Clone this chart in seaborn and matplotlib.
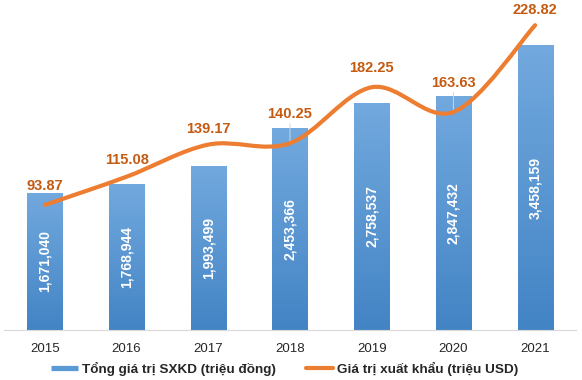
import numpy as np
import pandas as pd
import matplotlib
matplotlib.use('Agg')
import matplotlib.pyplot as plt
import seaborn as sns
from matplotlib.path import Path
from matplotlib.patches import PathPatch
from matplotlib.lines import Line2D
from matplotlib.colors import LinearSegmentedColormap

# Dữ liệu
years = ['2015', '2016', '2017', '2018', '2019', '2020', '2021']
sxkd = [1671040, 1768944, 1993499, 2453366, 2758537, 2847432, 3458159]
xuat_khau = [93.87, 115.08, 139.17, 140.25, 182.25, 163.63, 228.82]

# Khoảng cách nhãn (pt) phía trên điểm
label_offsets = [14, 12, 11, 21, 14, 21, 11]

sns.set_style('white')
plt.rcParams['font.family'] = ['Liberation Sans', 'DejaVu Sans']

fig = plt.figure(figsize=(5.82, 3.80), dpi=100)
ax = fig.add_axes([4 / 582, 50 / 380, 572 / 582, 325 / 380])

df = pd.DataFrame({'Nam': years, 'SXKD': sxkd})
sns.barplot(data=df, x='Nam', y='SXKD', ax=ax, width=0.43,
            color='#5B9BD5', saturation=1)

# Tô màu chuyển sắc cho cột
grad = np.linspace(0, 1, 256).reshape(-1, 1)
cmap = LinearSegmentedColormap.from_list('xanh', ['#4384C5', '#72A9DE'])
for p in ax.patches:
    x0, y0 = p.get_x(), p.get_y()
    w, h = p.get_width(), p.get_height()
    im = ax.imshow(grad, extent=[x0, x0 + w, y0, y0 + h], origin='lower',
                   aspect='auto', cmap=cmap, zorder=p.get_zorder())
    im.set_clip_path(p)
    p.set_facecolor('none')
    p.set_edgecolor('none')

ax.set_xlim(-0.5, 6.5)
ax.set_ylim(0, 3950000)

for i, v in enumerate(sxkd):
    ax.text(i, v / 2, f'{v:,}', rotation=90, ha='center', va='center',
            color='white', fontweight='bold', fontsize=10, zorder=5)

for s in ['top', 'left', 'right']:
    ax.spines[s].set_visible(False)
ax.spines['bottom'].set_color('#D9D9D9')
ax.set_yticks([])
ax.set_xlabel('')
ax.set_ylabel('')
ax.tick_params(axis='x', length=0, labelsize=9.5, pad=9)

# Trục phụ cho giá trị xuất khẩu
ax2 = ax.twinx()
ax2.set_ylim(0, 244)
ax2.set_yticks([])
for s in ax2.spines.values():
    s.set_visible(False)

# Đường cong mượt kiểu Excel
pts = list(zip(range(len(xuat_khau)), xuat_khau))
verts = [pts[0]]
codes = [Path.MOVETO]
for k in range(len(pts) - 1):
    p0 = pts[k - 1] if k > 0 else pts[k]
    p1, p2 = pts[k], pts[k + 1]
    p3 = pts[k + 2] if k + 2 < len(pts) else pts[k + 1]
    c1 = (p1[0] + (p2[0] - p0[0]) / 6, p1[1] + (p2[1] - p0[1]) / 6)
    c2 = (p2[0] - (p3[0] - p1[0]) / 6, p2[1] - (p3[1] - p1[1]) / 6)
    verts += [c1, c2, p2]
    codes += [Path.CURVE4] * 3
ax2.add_patch(PathPatch(Path(verts, codes), facecolor='none',
                        edgecolor='#ED7D31', linewidth=3, capstyle='round',
                        zorder=4))

for i, v in enumerate(xuat_khau):
    off = label_offsets[i]
    ax2.annotate(f'{v:.2f}', (i, v), xytext=(0, off), textcoords='offset points',
                 ha='center', va='center', color='#C55A11',
                 fontweight='bold', fontsize=10.5)
    if off > 15:
        # đường dẫn mảnh từ nhãn tới điểm
        ax2.annotate('', (i, v), xytext=(0, off - 7), textcoords='offset points',
                     arrowprops=dict(arrowstyle='-', color='#C9D9EA', lw=0.7,
                                     shrinkA=0, shrinkB=0), zorder=3)

handles = [Line2D([], [], color='#5B9BD5', linewidth=3.75, solid_capstyle='butt'),
           Line2D([], [], color='#ED7D31', linewidth=3, solid_capstyle='round')]
labels = ['Tổng giá trị SXKD (triệu đồng)', 'Giá trị xuất khẩu (triệu USD)']
fig.legend(handles, labels, loc='center', bbox_to_anchor=(0.489, 11 / 380),
           ncol=2, frameon=False, prop={'weight': 'bold', 'size': 9.7},
           handlelength=2.0, handletextpad=0.3, columnspacing=2.3)

fig.savefig('out.png', dpi=100)
